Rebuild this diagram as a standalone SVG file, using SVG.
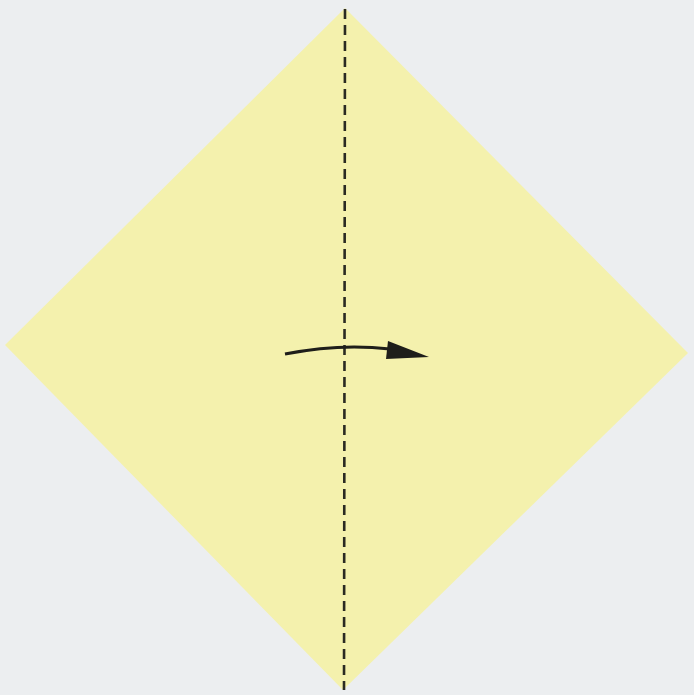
<svg xmlns="http://www.w3.org/2000/svg" width="694" height="695" viewBox="0 0 694 695">
<style>
.paper{fill:#f4f1ad;stroke:none}
.fold{stroke:#2a2a22;stroke-width:2.6;stroke-dasharray:10 6;fill:none}
.arrow{stroke:#1e1e1a;stroke-width:3;fill:none}
.head{fill:#1e1e1a}
</style>
<rect width="694" height="695" fill="#eceef0"/>
<g id="paper">
<polygon class="paper" points="345,8 688,353 343,690 5,345"/>
</g>
<g id="connectors">
<line class="fold" x1="345" y1="9" x2="344" y2="690"/>
<path class="arrow" d="M285,354 Q340,343 390,349"/>
<polygon class="head" points="388,341 386,359 429,357"/>
</g>
</svg>
